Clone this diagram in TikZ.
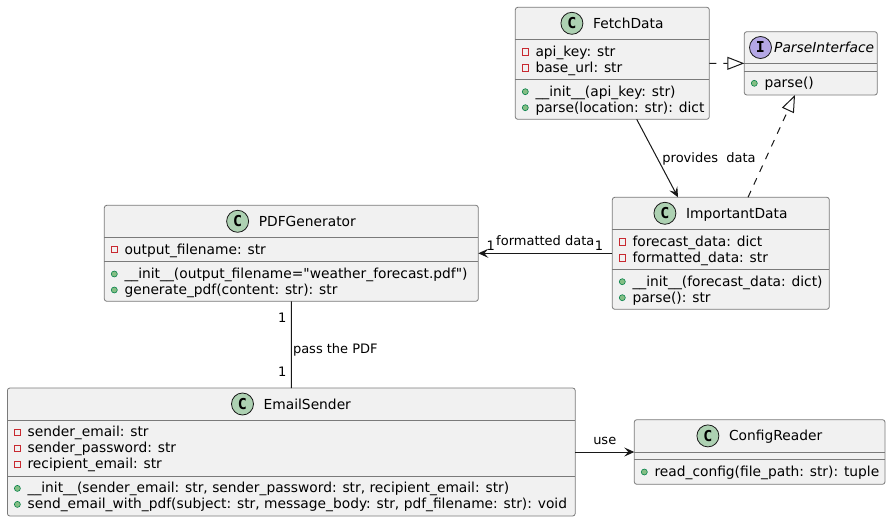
\documentclass[tikz,border=0pt]{standalone}
\usepackage{fontspec}
\setmainfont{DejaVu Sans}[Ligatures=TeXOff]
\newfontfamily\glyphfont{DejaVu Sans Mono}
\usetikzlibrary{arrows.meta,fit,calc}
\definecolor{boxfill}{HTML}{F1F1F1}
\definecolor{boxline}{HTML}{7A7A7A}
\definecolor{ink}{HTML}{181818}
\definecolor{cgreen}{HTML}{ADD1B2}
\definecolor{ipurple}{HTML}{B4A7E5}
\definecolor{privred}{HTML}{C82930}
\definecolor{pubfill}{HTML}{84BE84}
\definecolor{publine}{HTML}{038048}
\tikzset{
 cbox/.style={draw=boxline, line width=0.8pt, fill=boxfill, rounded corners=2.5pt, inner sep=0pt, outer sep=0pt, rectangle},
 sepline/.style={draw=boxline, line width=0.8pt},
 memb/.style={inner sep=0pt, anchor=base west, font=\fontsize{13.8}{16}\selectfont, text=black},
 cname/.style={inner sep=0pt, anchor=base, font=\fontsize{13.8}{16}\selectfont},
 privicon/.style={draw=privred, line width=0.8pt, rectangle, minimum size=6.5pt, inner sep=0pt},
 pubicon/.style={draw=publine, fill=pubfill, line width=0.6pt, circle, minimum size=6pt, inner sep=0pt},
 spot/.style={circle, draw=ink, line width=0.8pt, minimum size=22pt, inner sep=0pt, font=\glyphfont\bfseries\fontsize{15}{15}\selectfont},
 edgeline/.style={draw=ink, line width=1pt},
 assoc/.style={edgeline, -{Stealth[length=10pt,width=9pt,inset=4pt]}},
 realize/.style={edgeline, dash pattern=on 7pt off 7pt, -{Triangle[open,length=17pt,width=13pt]}},
 elabel/.style={inner sep=0pt, font=\fontsize{13}{15}\selectfont},
}
% id, left x, row centre y, text
\newcommand\privattr[4]{%
 \node[privicon] (#1i) at ({#2+10},{#3}) {};
 \node[memb] (#1) at ({#2+20},{#3+4.5}) {#4};}
\newcommand\pubmeth[4]{%
 \node[pubicon] (#1i) at ({#2+10},{#3}) {};
 \node[memb] (#1) at ({#2+20},{#3+4.5}) {#4};}
% id, centre x, header centre y, name, letter, colour
\newcommand\classhead[6]{%
 \node[cname] (#1) at ({#2},{#3+5}) {\hspace{32pt}#4};
 \node[spot, fill=#6] (#1s) at ($(#1.base west)+(11pt,5pt)$) {#5};}

\begin{document}
\begin{tikzpicture}[x=1pt,y=-1pt]
\fill[white] (0,0) rectangle (891,522);
\useasboundingbox (0,0) rectangle (891,522);

% ---------- FetchData
\node[cbox, fit={(515.3,7.3) (709.3,119.3)}] (fetch) {};
\draw[sepline] (fetch.west |- 0,39.3) -- (fetch.east |- 0,39.3);
\draw[sepline] (fetch.west |- 0,79.3) -- (fetch.east |- 0,79.3);
\classhead{fetchname}{612.3}{23.3}{FetchData}{C}{cgreen}
\privattr{fa1}{515.3}{51.7}{api\_key: str}
\privattr{fa2}{515.3}{67.7}{base\_url: str}
\pubmeth{fm1}{515.3}{91.7}{\_\_init\_\_(api\_key: str)}
\pubmeth{fm2}{515.3}{107.7}{parse(location: str): dict}

% ---------- ParseInterface
\node[cbox, fit={(744.3,31.7) (877.3,95)}] (parseI) {};
\draw[sepline] (parseI.west |- 0,63.3) -- (parseI.east |- 0,63.3);
\draw[sepline] (parseI.west |- 0,71) -- (parseI.east |- 0,71);
\node[cname, anchor=base west] (piname) at (774,52.5) {\itshape ParseInterface};
\node[spot, fill=ipurple] (pinames) at (760.5,47.5) {I};
\pubmeth{pm1}{744.3}{83.3}{parse()}

% ---------- ImportantData
\node[cbox, fit={(612.3,197.3) (829.3,309.3)}] (imp) {};
\draw[sepline] (imp.west |- 0,229.3) -- (imp.east |- 0,229.3);
\draw[sepline] (imp.west |- 0,269.3) -- (imp.east |- 0,269.3);
\classhead{impname}{720.8}{213.3}{ImportantData}{C}{cgreen}
\privattr{ia1}{612.3}{241.7}{forecast\_data: dict}
\privattr{ia2}{612.3}{257.7}{formatted\_data: str}
\pubmeth{im1}{612.3}{281.7}{\_\_init\_\_(forecast\_data: dict)}
\pubmeth{im2}{612.3}{297.7}{parse(): str}

% ---------- PDFGenerator
\node[cbox, fit={(104.3,205.3) (478.3,301.3)}] (pdf) {};
\draw[sepline] (pdf.west |- 0,237.3) -- (pdf.east |- 0,237.3);
\draw[sepline] (pdf.west |- 0,261.3) -- (pdf.east |- 0,261.3);
\classhead{pdfname}{291.3}{221.3}{PDFGenerator}{C}{cgreen}
\privattr{pa1}{104.3}{249.5}{output\_filename: str}
\pubmeth{pm2}{104.3}{274}{\_\_init\_\_(output\_filename={\char34}weather\_forecast.pdf{\char34})}
\pubmeth{pm3}{104.3}{290}{generate\_pdf(content: str): str}

% ---------- EmailSender
\node[cbox, fit={(7.4,388) (575.2,516)}] (email) {};
\draw[sepline] (email.west |- 0,420) -- (email.east |- 0,420);
\draw[sepline] (email.west |- 0,476) -- (email.east |- 0,476);
\classhead{emailname}{291.3}{404}{EmailSender}{C}{cgreen}
\privattr{ea1}{7.4}{432.4}{sender\_email: str}
\privattr{ea2}{7.4}{448.4}{sender\_password: str}
\privattr{ea3}{7.4}{464.4}{recipient\_email: str}
\pubmeth{em1}{7.4}{488.4}{\_\_init\_\_(sender\_email: str, sender\_password: str, recipient\_email: str)}
\pubmeth{em2}{7.4}{504.4}{send\_email\_with\_pdf(subject: str, message\_body: str, pdf\_filename: str): void}

% ---------- ConfigReader
\node[cbox, fit={(634.3,419.7) (885,484.3)}] (config) {};
\draw[sepline] (config.west |- 0,452.1) -- (config.east |- 0,452.1);
\draw[sepline] (config.west |- 0,459.7) -- (config.east |- 0,459.7);
\classhead{configname}{759.65}{435.9}{ConfigReader}{C}{cgreen}
\pubmeth{cm1}{634.3}{472}{read\_config(file\_path: str): tuple}

% ---------- connectors
\draw[realize] (fetch.east) -- (parseI.west);
\draw[realize] ([xshift=27.2pt]imp.north) -- ([xshift=-15.8pt]parseI.south);
\draw[assoc] ([xshift=24.4pt]fetch.south) -- ([xshift=-42.8pt]imp.north)
  node[elabel, pos=0.5, anchor=base west, xshift=4.6pt, yshift=-4.2pt] (provl) {provides\ \ data};
\draw[assoc] (imp.west) -- (pdf.east)
  node[elabel, midway, anchor=base, yshift=7.5pt] (fmtl) {formatted data};
\node[elabel, anchor=base west] (fmt1a) at ($(pdf.east)+(8.2pt,3pt)$) {1};
\node[elabel, anchor=base east] (fmt1b) at ($(imp.west)+(-9pt,3pt)$) {1};
\draw[edgeline] (pdf.south) -- (email.north);
\node[elabel, anchor=base east] (pass1a) at ($(pdf.south)+(-4.7pt,-20.9pt)$) {1};
\node[elabel, anchor=base west] (passl) at ($(pdf.south)+(1.5pt,-52.2pt)$) {pass the PDF};
\node[elabel, anchor=base east] (pass1b) at ($(email.north)+(-4.7pt,11.3pt)$) {1};
\draw[assoc] (email.east) -- (config.west)
  node[elabel, midway, anchor=base, yshift=7.3pt] (usel) {use};
\end{tikzpicture}
\end{document}
